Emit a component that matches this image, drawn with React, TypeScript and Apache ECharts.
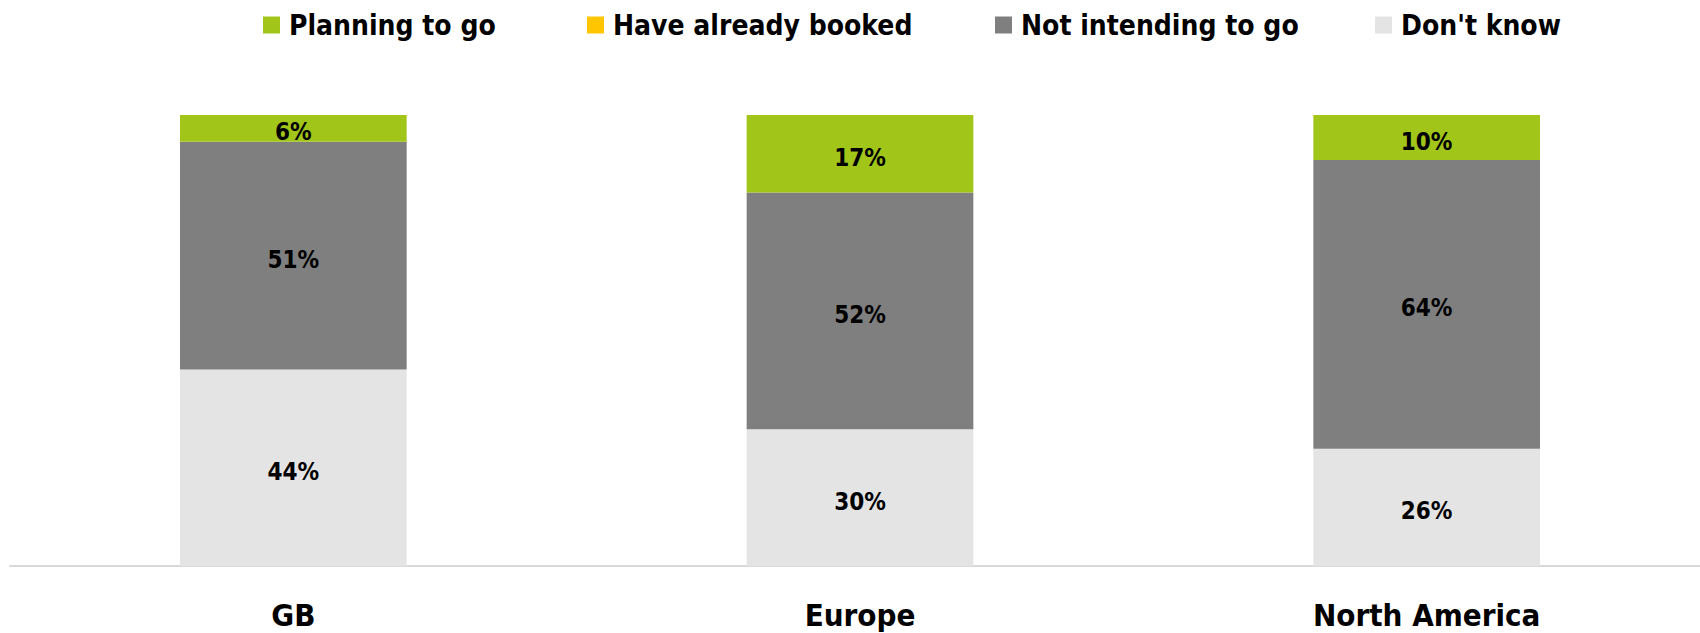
import React, { useEffect, useRef } from "react";
import * as echarts from "echarts";

const categories = ["GB", "Europe", "North America"];
const seriesNames = ["Planning to go", "Have already booked", "Not intending to go", "Don't know"];
const planningToGo = [6, 17, 10];
const alreadyBooked = [0, 0, 0];
const notIntending = [51, 52, 64];
const dontKnow = [44, 30, 26];
const colors = ["#A2C51A", "#FFC600", "#7F7F7F", "#E4E4E4"];
const legendLefts = [263, 587, 995, 1375];

const FONT = "DejaVu Sans Condensed";

export default function App() {
  const ref = useRef<HTMLDivElement>(null);
  useEffect(() => {
    if (!ref.current) return;
    const chart = echarts.init(ref.current, null, { renderer: "svg" });
    const raw = [planningToGo, alreadyBooked, notIntending, dontKnow];
    const totals = categories.map((_, i) => raw.reduce((s, arr) => s + arr[i], 0));
    // 100% stacked: bottom-up order Don't know, Not intending, Booked, Planning
    const order = [3, 2, 1, 0];
    const series = order.map((k) => ({
      name: seriesNames[k],
      type: "bar",
      stack: "total",
      barWidth: "40%",
      itemStyle: { color: colors[k] },
      data: raw[k].map((v, i) => ({ value: (v / totals[i]) * 100, raw: v })),
      label: {
        show: true,
        position: "inside",
        offset: [0, 4],
        formatter: (p: any) => (p.data.raw > 0 ? p.data.raw + "%" : ""),
        color: "#000",
        fontFamily: FONT,
        fontSize: 24,
        fontWeight: "bold",
      },
    }));
    const legends = seriesNames.map((name, i) => ({
      data: [name],
      top: 11,
      left: legendLefts[i],
      padding: 0,
      icon: "rect",
      itemWidth: 17,
      itemHeight: 17,
      textStyle: {
        fontFamily: FONT,
        fontSize: 28,
        fontWeight: "bold",
        color: "#000",
        padding: [0, 0, 0, 4],
      },
    }));
    chart.setOption({
      animation: false,
      legend: legends,
      grid: {
        left: 10,
        width: 1700,
        top: 115,
        bottom: 67,
        containLabel: false,
        outerBoundsMode: "none",
      },
      xAxis: {
        type: "category",
        data: categories,
        axisLine: { show: true, lineStyle: { color: "#D9D9D9", width: 2 } },
        axisTick: { show: false },
        axisLabel: {
          margin: 33,
          fontFamily: FONT,
          fontSize: 31,
          fontWeight: "bold",
          color: "#000",
        },
      },
      yAxis: {
        type: "value",
        min: 0,
        max: 100,
        show: false,
        splitLine: { show: false },
      },
      series,
    });
    return () => chart.dispose();
  }, []);
  return (
    <div
      ref={ref}
      style={{ position: "absolute", left: 0, top: 0, width: 1700, height: 633 }}
    />
  );
}
